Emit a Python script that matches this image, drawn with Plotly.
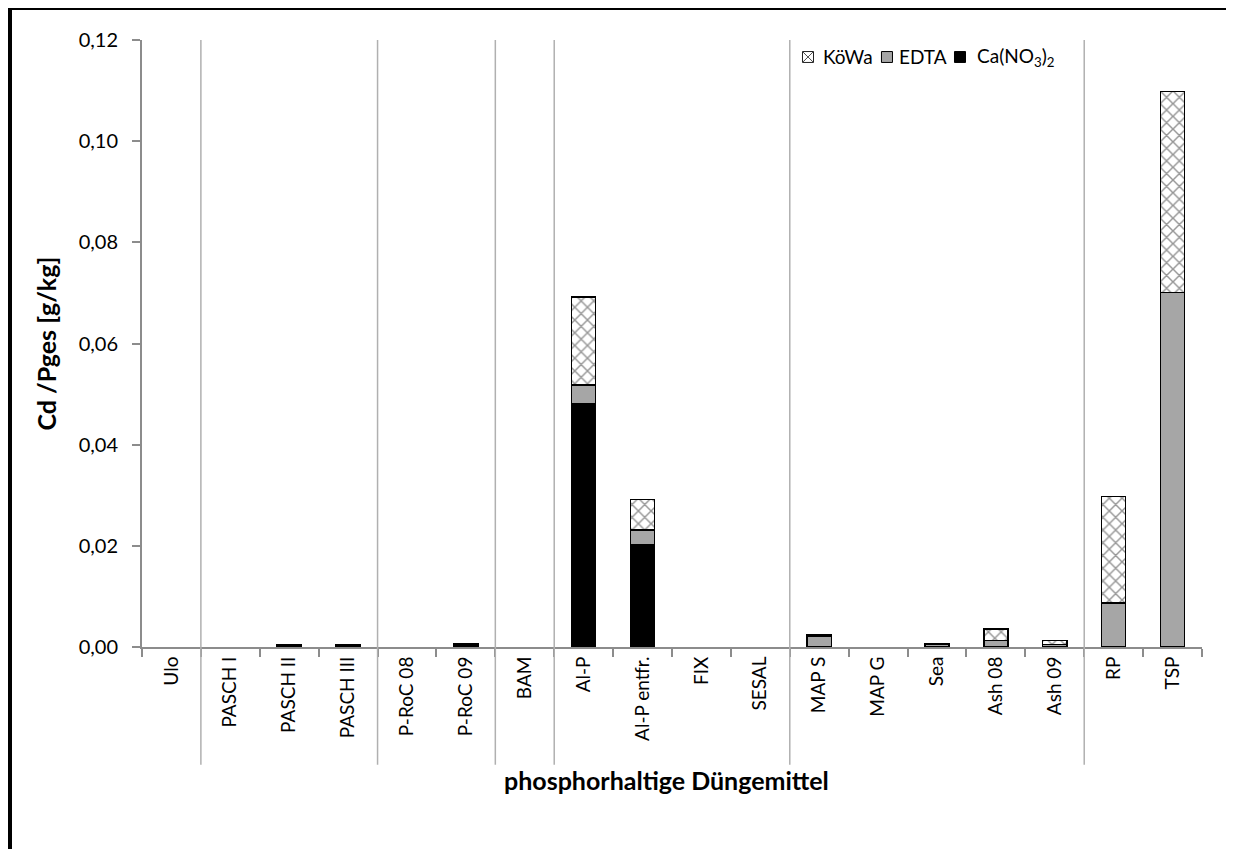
import plotly.graph_objects as go

categories = ["Ulo", "PASCH I", "PASCH II", "PASCH III", "P-RoC 08", "P-RoC 09", "BAM",
              "Al-P", "Al-P entfr.", "FIX", "SESAL", "MAP S", "MAP G", "Sea",
              "Ash 08", "Ash 09", "RP", "TSP"]
ca_no3 = [None, None, 0.0001, 0.0001, None, 0.0001, None, 0.048, 0.0202, None, None, 0.0001,
          None, 0.0001, 0.0001, 0.0001, 0.0001, 0.0001]
edta = [None, None, 0.0002, 0.0002, None, 0.0003, None, 0.0038, 0.0029, None, None, 0.0021,
        None, 0.0004, 0.0012, 0.0004, 0.0086, 0.0700]
koewa = [None, None, 0.0001, 0.0001, None, 0.0003, None, 0.0174, 0.0061, None, None, 0.0003,
         None, 0.0001, 0.0023, 0.0008, 0.0211, 0.0397]
series_names = ["KöWa", "EDTA", "Ca(NO<sub>3</sub>)<sub>2</sub>"]
group_sizes = [1, 3, 2, 1, 4, 5, 2]
y_ticks = [0, 0.02, 0.04, 0.06, 0.08, 0.10, 0.12]

FONT = "Lato"
EDGE = dict(color="black", width=1.5)
fig = go.Figure()
fig.add_trace(go.Bar(x=categories, y=ca_no3, name=series_names[2],
                     marker=dict(color="black", line=EDGE)))
fig.add_trace(go.Bar(x=categories, y=edta, name=series_names[1],
                     marker=dict(color="#a6a6a6", line=EDGE)))
fig.add_trace(go.Bar(x=categories, y=koewa, name=series_names[0],
                     marker=dict(color="white", line=EDGE,
                                 pattern=dict(shape="x", fgcolor="#303030", bgcolor="white",
                                              size=9, solidity=0.3))))

shapes = []
pos = 0
for g in group_sizes[:-1]:
    pos += g
    shapes.append(dict(type="line", xref="x", yref="paper", x0=pos - 0.5, x1=pos - 0.5,
                       y0=-0.194, y1=1, line=dict(color="#b0b0b0", width=1.5)))
# outer black frame (top and left visible)
shapes.append(dict(type="line", xref="paper", yref="paper", x0=-0.125, x1=1.2,
                   y0=1.0535, y1=1.0535, line=dict(color="black", width=5)))
shapes.append(dict(type="line", xref="paper", yref="paper", x0=-0.125, x1=-0.125,
                   y0=-0.5, y1=1.0535, line=dict(color="black", width=5)))

# compact legend (Excel style)
ly = 0.972
hw, hh = 0.0052, 0.0090
sym_x = [0.6283, 0.7028, 0.7717]
txt_x = [0.6405, 0.7120, 0.7855]
sym_fill = ["white", "#a6a6a6", "black"]
for i, sx in enumerate(sym_x):
    shapes.append(dict(type="rect", xref="paper", yref="paper", x0=sx - hw, x1=sx + hw,
                       y0=ly - hh, y1=ly + hh, fillcolor=sym_fill[i],
                       line=dict(color="#222222" if i == 0 else "black", width=1)))
# hatch for KöWa symbol
sx = sym_x[0]
for d in (-0.5, 0.5):
    shapes.append(dict(type="line", xref="paper", yref="paper", x0=sx - hw, x1=sx + hw,
                       y0=ly - hh, y1=ly + hh, line=dict(color="#555555", width=1)))
    shapes.append(dict(type="line", xref="paper", yref="paper", x0=sx - hw, x1=sx + hw,
                       y0=ly + hh, y1=ly - hh, line=dict(color="#555555", width=1)))

annotations = [
    dict(text="<b>Cd /Pges [g/kg]</b>", xref="paper", yref="paper", x=-0.0915, y=0.5,
         xanchor="center", yanchor="middle",
         textangle=-90, showarrow=False, font=dict(size=25, family=FONT)),
    dict(text="<b>phosphorhaltige Düngemittel</b>", xref="paper", yref="paper",
         x=0.495, y=-0.219, xanchor="center", yanchor="middle",
         showarrow=False, font=dict(size=25, family=FONT)),
]
for i, tx in enumerate(txt_x):
    annotations.append(dict(text=series_names[i], xref="paper", yref="paper", x=tx, y=ly,
                            xanchor="left", yanchor="middle", showarrow=False,
                            font=dict(size=19, family=FONT)))

fig.update_layout(
    width=1226, height=841,
    margin=dict(l=134, r=32, t=32, b=202),
    paper_bgcolor="white", plot_bgcolor="white",
    barmode="stack", bargap=0.59,
    separators=",.",
    font=dict(family=FONT, size=19, color="black"),
    showlegend=False,
    shapes=shapes,
    annotations=annotations,
)
fig.update_xaxes(type="category", showline=True, linecolor="#8c8c8c", linewidth=2,
                 ticks="outside", tickson="boundaries", ticklen=8, tickcolor="#8c8c8c",
                 tickwidth=2, tickangle=-90, tickfont=dict(size=19), showgrid=False)
fig.update_yaxes(range=[0, 0.12], tickvals=y_ticks, tickformat=".2f", showline=True,
                 linecolor="#8c8c8c", linewidth=2, ticks="outside", ticklen=8,
                 tickcolor="#8c8c8c", tickwidth=2, showgrid=False, zeroline=False,
                 ticklabelstandoff=10, tickfont=dict(size=20))

fig.write_html("out.html")
